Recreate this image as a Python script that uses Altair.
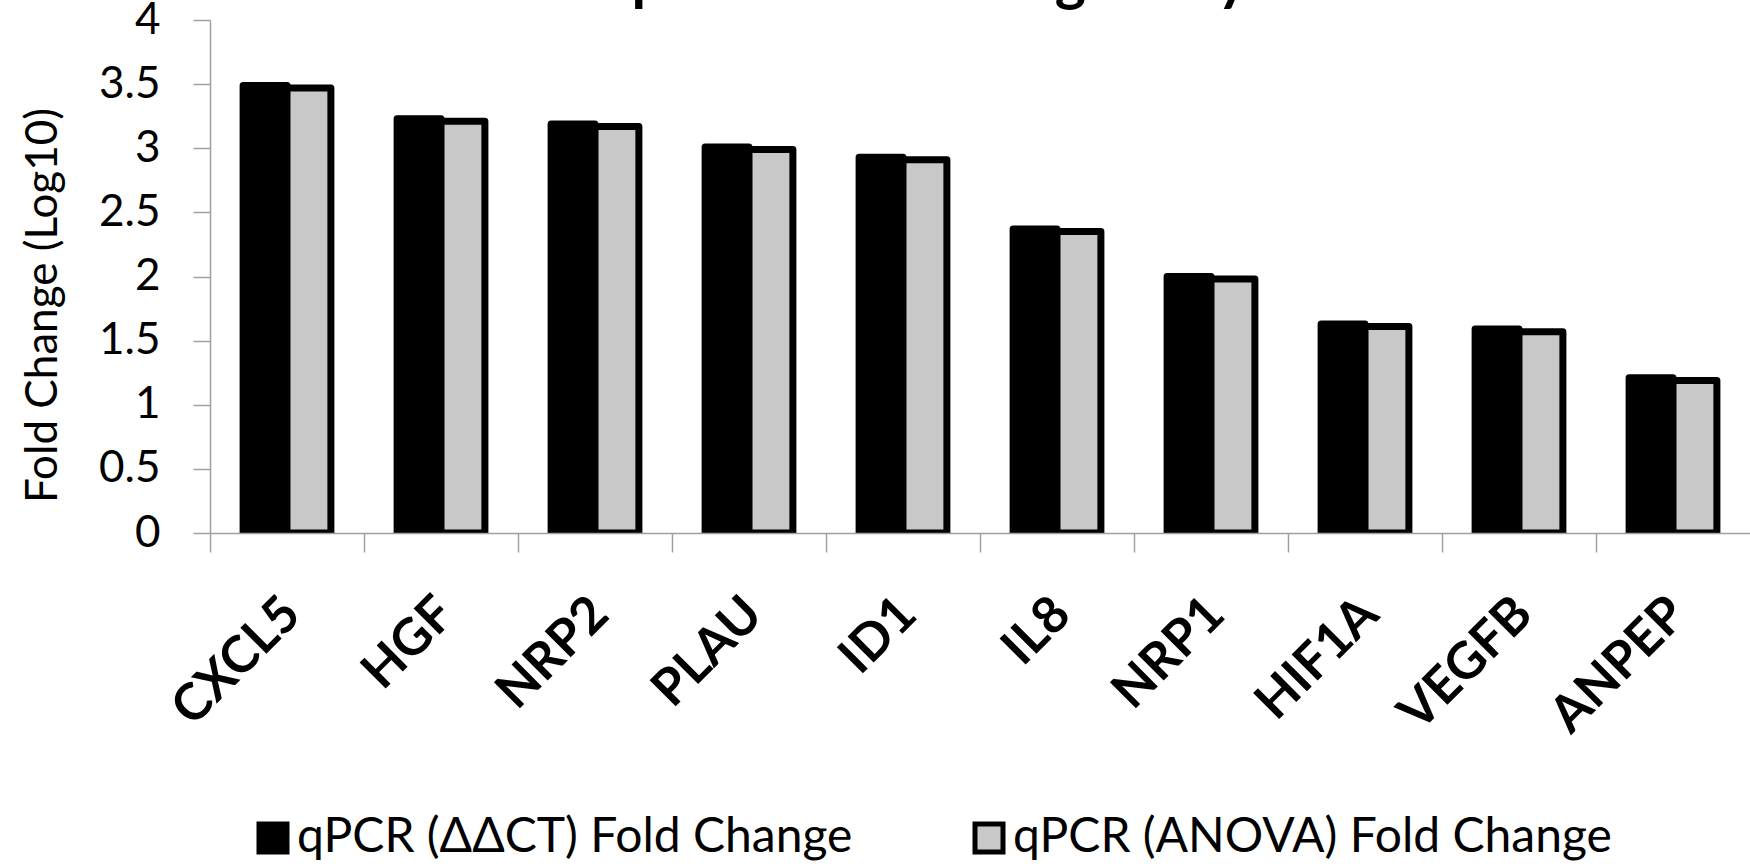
import altair as alt
import pandas as pd

# ---- data ----
GENES = ["CXCL5", "HGF", "NRP2", "PLAU", "ID1", "IL8", "NRP1", "HIF1A", "VEGFB", "ANPEP"]
DDCT = [3.49, 3.23, 3.19, 3.01, 2.93, 2.37, 2.00, 1.63, 1.59, 1.21]
ANOVA = [3.47, 3.21, 3.17, 2.99, 2.91, 2.35, 1.98, 1.61, 1.57, 1.19]
SERIES = ["qPCR (ΔΔCT) Fold Change", "qPCR (ANOVA) Fold Change"]
COLORS = ["#000000", "#c8c8c8"]
Y_TICKS = [0, 0.5, 1, 1.5, 2, 2.5, 3, 3.5, 4]
Y_TITLE = "Fold Change (Log10)"
TITLE = "Gene Expression Profiling Analysis"

rows = []
for s, vals in zip(SERIES, [DDCT, ANOVA]):
    for g, v in zip(GENES, vals):
        rows.append({"gene": g, "series": s, "value": v})
df = pd.DataFrame(rows)

W, H = 1540, 513
STEP = W / len(GENES)
FONT = "Lato"
AXIS_GREY = "#a0a0a0"

bars = alt.Chart(df).mark_bar(
    stroke="black", strokeWidth=7, strokeJoin="round", clip=True
).encode(
    x=alt.X(
        "gene:N", sort=GENES,
        scale=alt.Scale(paddingInner=0.43, paddingOuter=0.215),
        axis=alt.Axis(
            title=None, labelAngle=-45, labelAlign="right", labelBaseline="middle",
            labelFont=FONT, labelFontWeight="bold", labelFontSize=51, labelColor="black",
            labelPadding=54, labelLimit=600, labelOverlap=False,
            tickSize=19, tickOffset=-STEP / 2, labelOffset=STEP / 2 + 5,
            domainColor=AXIS_GREY, tickColor=AXIS_GREY, domainWidth=1.5, tickWidth=1.5,
            zindex=1,
        ),
    ),
    xOffset=alt.XOffset("series:N", sort=SERIES),
    y=alt.Y(
        "value:Q",
        scale=alt.Scale(domain=[0, 4], nice=False),
        axis=alt.Axis(
            values=Y_TICKS, format="~g", grid=False,
            labelFont=FONT, labelFontSize=44, labelColor="black", labelPadding=33,
            tickSize=17, domainColor=AXIS_GREY, tickColor=AXIS_GREY,
            domainWidth=1.5, tickWidth=1.5,
            title=Y_TITLE, titleFont=FONT, titleFontSize=44, titleFontWeight="normal",
            titleColor="black", titleX=-145, titleY=285, titleAngle=270,
            titleAlign="center", titleBaseline="bottom", zindex=1,
        ),
    ),
    color=alt.Color(
        "series:N", sort=SERIES,
        scale=alt.Scale(domain=SERIES, range=COLORS),
        legend=alt.Legend(
            orient="none", legendX=39, legendY=794, direction="horizontal", title=None,
            symbolType="square", symbolSize=784, symbolStrokeColor="black",
            symbolStrokeWidth=5, symbolOpacity=1,
            labelFont=FONT, labelFontSize=48, labelColor="black", labelLimit=1000,
            labelOffset=0, columnPadding=112, padding=0,
        ),
    ),
)

title_layer = alt.Chart(pd.DataFrame({"t": [TITLE]})).mark_text(
    font=FONT, fontSize=59, fontWeight="bold", align="center",
    baseline="alphabetic", color="black",
).encode(text="t:N", x=alt.value(654), y=alt.value(-21))

chart = alt.layer(bars, title_layer).properties(
    width=W, height=H,
    autosize=alt.AutoSizeParams(type="none"),
    padding={"left": 210, "top": 20, "right": 0, "bottom": 333},
    background="white",
).configure_view(stroke=None)

chart.save("out.html", embed_options={"renderer": "svg", "actions": False})
